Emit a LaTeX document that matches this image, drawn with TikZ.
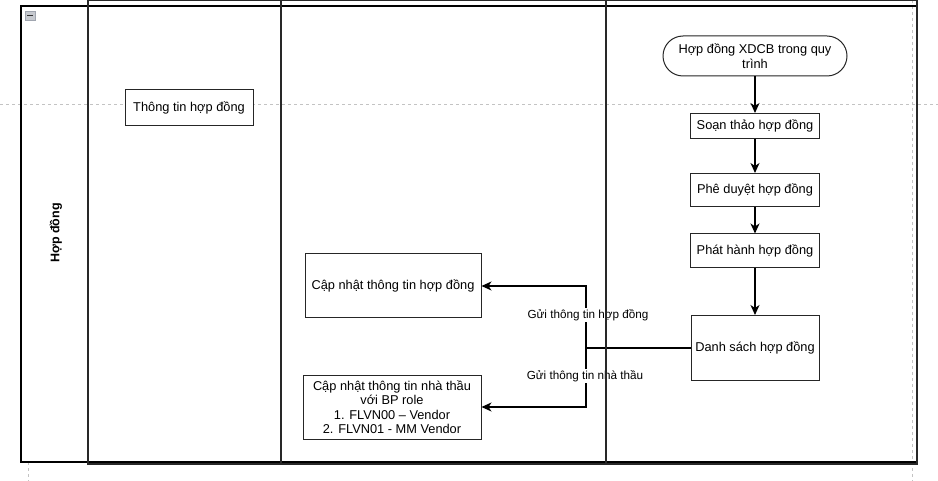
\documentclass[tikz,border=0pt]{standalone}
\usepackage{fontspec}
\setmainfont{Liberation Sans}
\usepackage{tikz}
\usetikzlibrary{arrows,arrows.meta,shapes,positioning}
\usepackage{xcolor}
\definecolor{laneline}{RGB}{40,40,40}
\definecolor{guidegray}{RGB}{195,195,195}
\definecolor{icongray}{RGB}{160,165,175}
\tikzstyle{arrow} = [line width=1.1pt,-{Stealth[length=10pt,width=9pt,inset=3pt]},color=black]
\tikzstyle{flowline} = [line width=1.1pt,color=black]
\tikzstyle{procbox} = [draw=black!85, line width=1pt, fill=white, align=center, inner sep=2pt, font=\fontsize{12.8}{15}\selectfont]
\tikzstyle{termbox} = [procbox, rounded corners=20pt]
\tikzstyle{msglabel} = [fill=white, inner sep=1pt, font=\fontsize{11.7}{13}\selectfont]
\tikzstyle{lane} = [draw=laneline, line width=1.7pt]
\tikzstyle{guide} = [dashed, color=guidegray, line width=0.8pt]

\begin{document}
\begin{tikzpicture}[x=1pt, y=-1pt]
\useasboundingbox (0,0) rectangle (938,481);
% Guide lines
\draw[guide] (0,104) -- (938,104);
\draw[guide] (912,0) -- (912,481);
\draw[guide] (28,462) -- (28,481);

% Left column
\node[procbox, minimum width=128pt, minimum height=36pt] (ttHD) at (189,108) {Thông tin hợp đồng};

% Right column: main flow
\node[termbox, minimum width=184pt, minimum height=40pt] (hdXDCB) at (755,56) {Hợp đồng XDCB trong quy\\trình};
\node[procbox, minimum width=129pt, minimum height=25pt] (soanThao) at (755,126) {Soạn thảo hợp đồng};
\node[procbox, minimum width=129pt, minimum height=33pt] (pheDuyet) at (755,190) {Phê duyệt hợp đồng};
\node[procbox, minimum width=129pt, minimum height=34pt] (phatHanh) at (755,251) {Phát hành hợp đồng};
\node[procbox, minimum width=128pt, minimum height=65pt] (dsHD) at (755,348) {Danh sách hợp đồng};

% Middle column: updates
\node[procbox, minimum width=176pt, minimum height=64pt] (cnHD) at (393,286) {Cập nhật thông tin hợp đồng};
\node[procbox, minimum width=178pt, minimum height=64pt, font=\fontsize{12.8}{14.5}\selectfont] (cnNT) at (392,407) {Cập nhật thông tin nhà thầu\\với BP role\\1. FLVN00 -- Vendor\\2. FLVN01 - MM Vendor};

% Flow arrows
\draw[arrow] (hdXDCB) -- (soanThao);
\draw[arrow] (soanThao) -- (pheDuyet);
\draw[arrow] (pheDuyet) -- (phatHanh);
\draw[arrow] (phatHanh) -- (dsHD);

% Split to the middle column
\coordinate (split) at (586,348);
\draw[flowline] (dsHD.west) -- (split);
\draw[arrow] (split) |- (cnHD.east);
\draw[arrow] (split) |- (cnNT.east);
\node[msglabel] (lblHD) at (588,315) {Gửi thông tin hợp đồng};
\node[msglabel] (lblNT) at (585,376) {Gửi thông tin nhà thầu};

% Pool and lanes
\draw[line width=1.1pt] (21,6) rectangle (917,462);
\draw[lane] (88,0) rectangle (281,464);
\draw[lane] (281,0) rectangle (606,464);
\draw[lane] (606,0) rectangle (917,464);
\node[rotate=90, font=\fontsize{12.5}{14}\selectfont\bfseries] (poolName) at (56,233) {Hợp đồng};

% Collapse icon
\draw[draw=icongray, fill=icongray!60] (25,11) rectangle (35,20);
\draw[line width=1.5pt, color=black!80] (27,15.5) -- (33,15.5);
\end{tikzpicture}
\end{document}
